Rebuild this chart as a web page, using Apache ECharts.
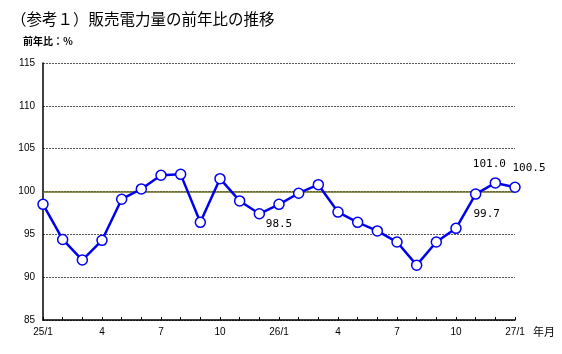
<!DOCTYPE html>
<html>
<head>
<meta charset="utf-8">
<script src="https://cdn.jsdelivr.net/npm/echarts@6/dist/echarts.min.js"></script>
<style>
  html, body { margin: 0; padding: 0; background: #fff; }
  #chart { width: 562px; height: 354px; }
</style>
</head>
<body>
<div id="chart"></div>
<script>
// 年月（25/1 〜 27/1）
const months = ['25/1', '2', '3', '4', '5', '6', '7', '8', '9', '10', '11', '12',
  '26/1', '2', '3', '4', '5', '6', '7', '8', '9', '10', '11', '12', '27/1']
// 前年比（％）
const ratio = [98.5, 94.4, 92.0, 94.3, 99.1, 100.3, 101.9, 102.0, 96.4, 101.5, 98.9, 97.4,
  98.5, 99.8, 100.8, 97.6, 96.4, 95.4, 94.1, 91.4, 94.1, 95.7, 99.7, 101.0, 100.5]
// 数値を表示する点
const labeled = [12, 22, 23, 24]
const yTicks = [85, 90, 95, 100, 105, 110, 115]

const chart = echarts.init(document.getElementById('chart'))

// ラベルの位置
const labelPos = {
  12: { position: 'bottom', distance: 9, offset: [0, 0] },
  22: { position: 'bottom', distance: 9, offset: [11, 0] },
  23: { position: 'top', distance: 8, offset: [-6, 0] },
  24: { position: 'top', distance: 8, offset: [14, 0] }
}

const seriesData = ratio.map((v, i) => {
  if (labeled.indexOf(i) < 0) return v
  return {
    value: v,
    label: Object.assign({ show: true, formatter: v.toFixed(1) }, labelPos[i])
  }
})

const option = {
  animation: false,
  title: {
    text: '（参考１）販売電力量の前年比の推移',
    left: 6,
    top: 6,
    textStyle: { fontSize: 15.5, fontWeight: 'normal', color: '#000', fontFamily: 'Noto Sans CJK JP' }
  },
  graphic: [{
    type: 'text',
    left: 23,
    top: 36,
    style: { text: '前年比：％', fontSize: 10, fontWeight: 'bold', fill: '#000', fontFamily: 'Noto Sans CJK JP' }
  }],
  grid: { left: 43, right: 47, top: 63, bottom: 34 },
  xAxis: {
    type: 'category',
    data: months,
    boundaryGap: false,
    name: '年月',
    nameLocation: 'end',
    nameGap: 18,
    nameTextStyle: { fontSize: 11, color: '#000', fontFamily: 'Noto Sans CJK JP', verticalAlign: 'top', padding: [6, 0, 0, 0] },
    axisLine: { lineStyle: { color: '#000', width: 1.5 } },
    axisTick: { show: true, interval: 0, inside: true, length: 3, lineStyle: { color: '#000' } },
    axisLabel: { interval: 2, color: '#000', fontSize: 10, margin: 7, fontFamily: 'Liberation Sans' },
    splitLine: { show: false }
  },
  yAxis: {
    type: 'value',
    min: yTicks[0],
    max: yTicks[yTicks.length - 1],
    interval: 5,
    axisLine: { show: true, lineStyle: { color: '#000', width: 1.5 } },
    axisTick: { show: false },
    axisLabel: { color: '#000', fontSize: 10, margin: 8, fontFamily: 'Liberation Sans' },
    splitLine: { show: true, lineStyle: { color: '#555', type: [2, 1], width: 1 } }
  },
  series: [{
    type: 'line',
    data: seriesData,
    symbol: 'circle',
    symbolSize: 10,
    lineStyle: { color: '#0000ee', width: 2.5 },
    itemStyle: { color: '#fff', borderColor: '#0000ee', borderWidth: 1.5 },
    label: { color: '#000', fontSize: 11, fontFamily: 'DejaVu Sans Mono' },
    markLine: {
      silent: true,
      symbol: 'none',
      label: { show: false },
      lineStyle: { color: '#6b6b22', type: 'solid', width: 1.5, opacity: 1 },
      data: [{ yAxis: 100 }],
      z: 1
    },
    z: 5
  }]
}

chart.setOption(option)
window.addEventListener('resize', () => {
  chart.resize()
})
</script>
</body>
</html>
